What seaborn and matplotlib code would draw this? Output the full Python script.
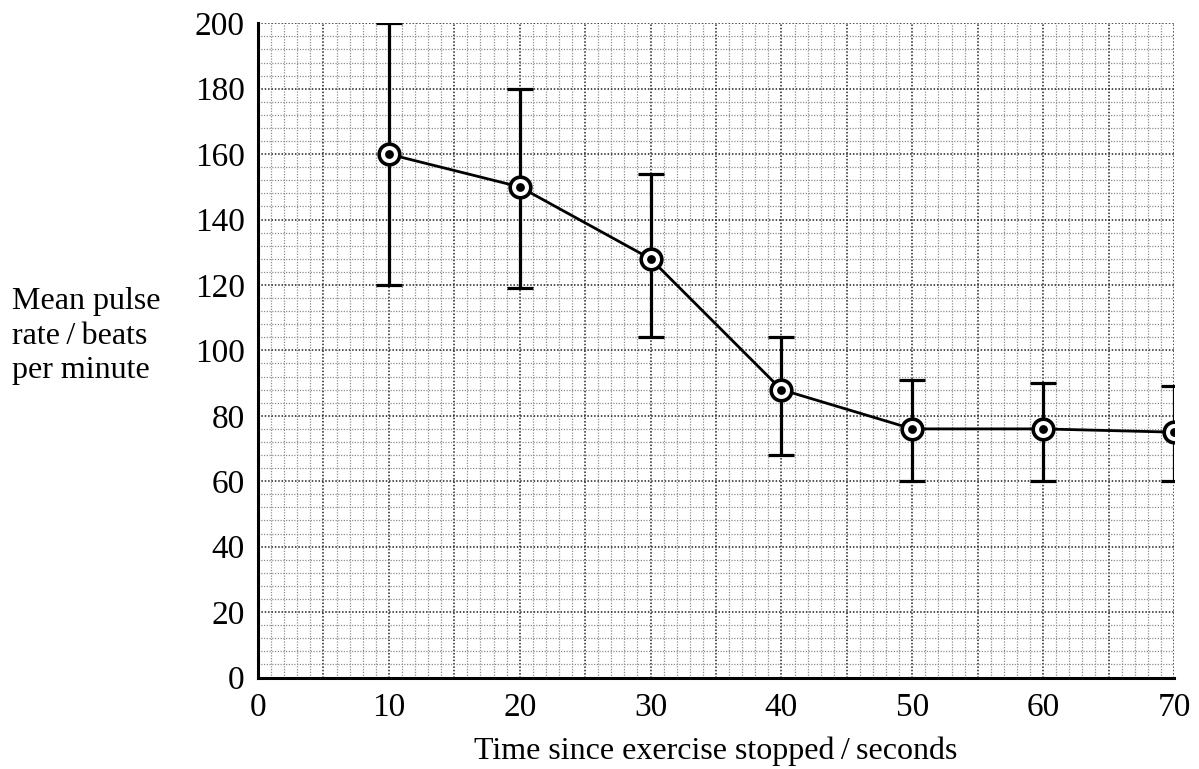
import matplotlib
matplotlib.use("Agg")
import matplotlib.pyplot as plt
import seaborn as sns
import pandas as pd
import numpy as np

# Data
time_s = [10, 20, 30, 40, 50, 60, 70]
mean_pulse = [160, 150, 128, 88, 76, 76, 75]
upper_bar = [200, 180, 154, 104, 91, 90, 89]
lower_bar = [120, 119, 104, 68, 60, 60, 60]

x_ticks = [0, 10, 20, 30, 40, 50, 60, 70]
y_ticks = [0, 20, 40, 60, 80, 100, 120, 140, 160, 180, 200]

df = pd.DataFrame({"time": time_s, "pulse": mean_pulse,
                   "upper": upper_bar, "lower": lower_bar})

sns.set_theme(style="white")
plt.rcParams["font.family"] = ["Liberation Serif", "DejaVu Serif"]

fig = plt.figure(figsize=(11.99, 7.69), dpi=100)
ax = fig.add_axes([258 / 1199, 1 - 677.5 / 769, (1174 - 258) / 1199, (677.5 - 23.3) / 769])

ax.set_xlim(0, 70)
ax.set_ylim(0, 200)

# graph-paper grid
for xv in np.arange(0, 71, 1):
    major = (xv % 5 == 0)
    ax.axvline(xv, color="#222222" if major else "#8f8f8f",
               lw=1.1 if major else 0.9, ls=(0, (1, 1.2)), zorder=0)
for yv in np.arange(0, 201, 4):
    major = (yv % 20 == 0)
    ax.axhline(yv, color="#222222" if major else "#8f8f8f",
               lw=1.1 if major else 0.9, ls=(0, (1, 1.2)), zorder=0)

# error bars
yerr = np.array([np.array(df["pulse"]) - np.array(df["lower"]),
                 np.array(df["upper"]) - np.array(df["pulse"])])
ax.errorbar(df["time"], df["pulse"], yerr=yerr, fmt="none", ecolor="black",
            elinewidth=2.3, capsize=9.5, capthick=2.3, zorder=3)

# line
sns.lineplot(data=df, x="time", y="pulse", color="black", lw=2.0, ax=ax,
             zorder=4, legend=False)
# markers: open circle with dot
sns.scatterplot(data=df, x="time", y="pulse", s=220, marker="o",
                facecolor="white", edgecolor="black", linewidth=2.6, ax=ax, zorder=5)
sns.scatterplot(data=df, x="time", y="pulse", s=40, marker="o",
                color="black", edgecolor="black", linewidth=0, ax=ax, zorder=6)

# axes styling
for side in ["top", "right"]:
    ax.spines[side].set_visible(False)
for side in ["left", "bottom"]:
    ax.spines[side].set_linewidth(2.2)
    ax.spines[side].set_color("black")
    ax.spines[side].set_zorder(7)

ax.set_xticks(x_ticks)
ax.set_yticks(y_ticks)
ax.set_xticklabels([str(v) for v in x_ticks])
ax.set_yticklabels([str(v) for v in y_ticks])
ax.tick_params(axis="both", which="major", direction="out", color="black",
               width=1.5, labelsize=24, labelcolor="black")
ax.tick_params(axis="y", which="major", length=7.5, pad=2)
ax.tick_params(axis="x", which="major", length=6.5, pad=4)
ax.tick_params(which="minor", length=0)
ax.set_facecolor("white")

ax.set_xlabel("Time since exercise stopped\u2009/\u2009seconds", fontsize=23,
              labelpad=10, color="black")
ax.set_ylabel("")
fig.text(12 / 1199, 1 - 336 / 769, "Mean pulse\nrate\u2009/\u2009beats\nper minute",
         fontsize=23, ha="left", va="center", linespacing=1.25, color="black")

fig.savefig("out.png", dpi=100, facecolor="white")
